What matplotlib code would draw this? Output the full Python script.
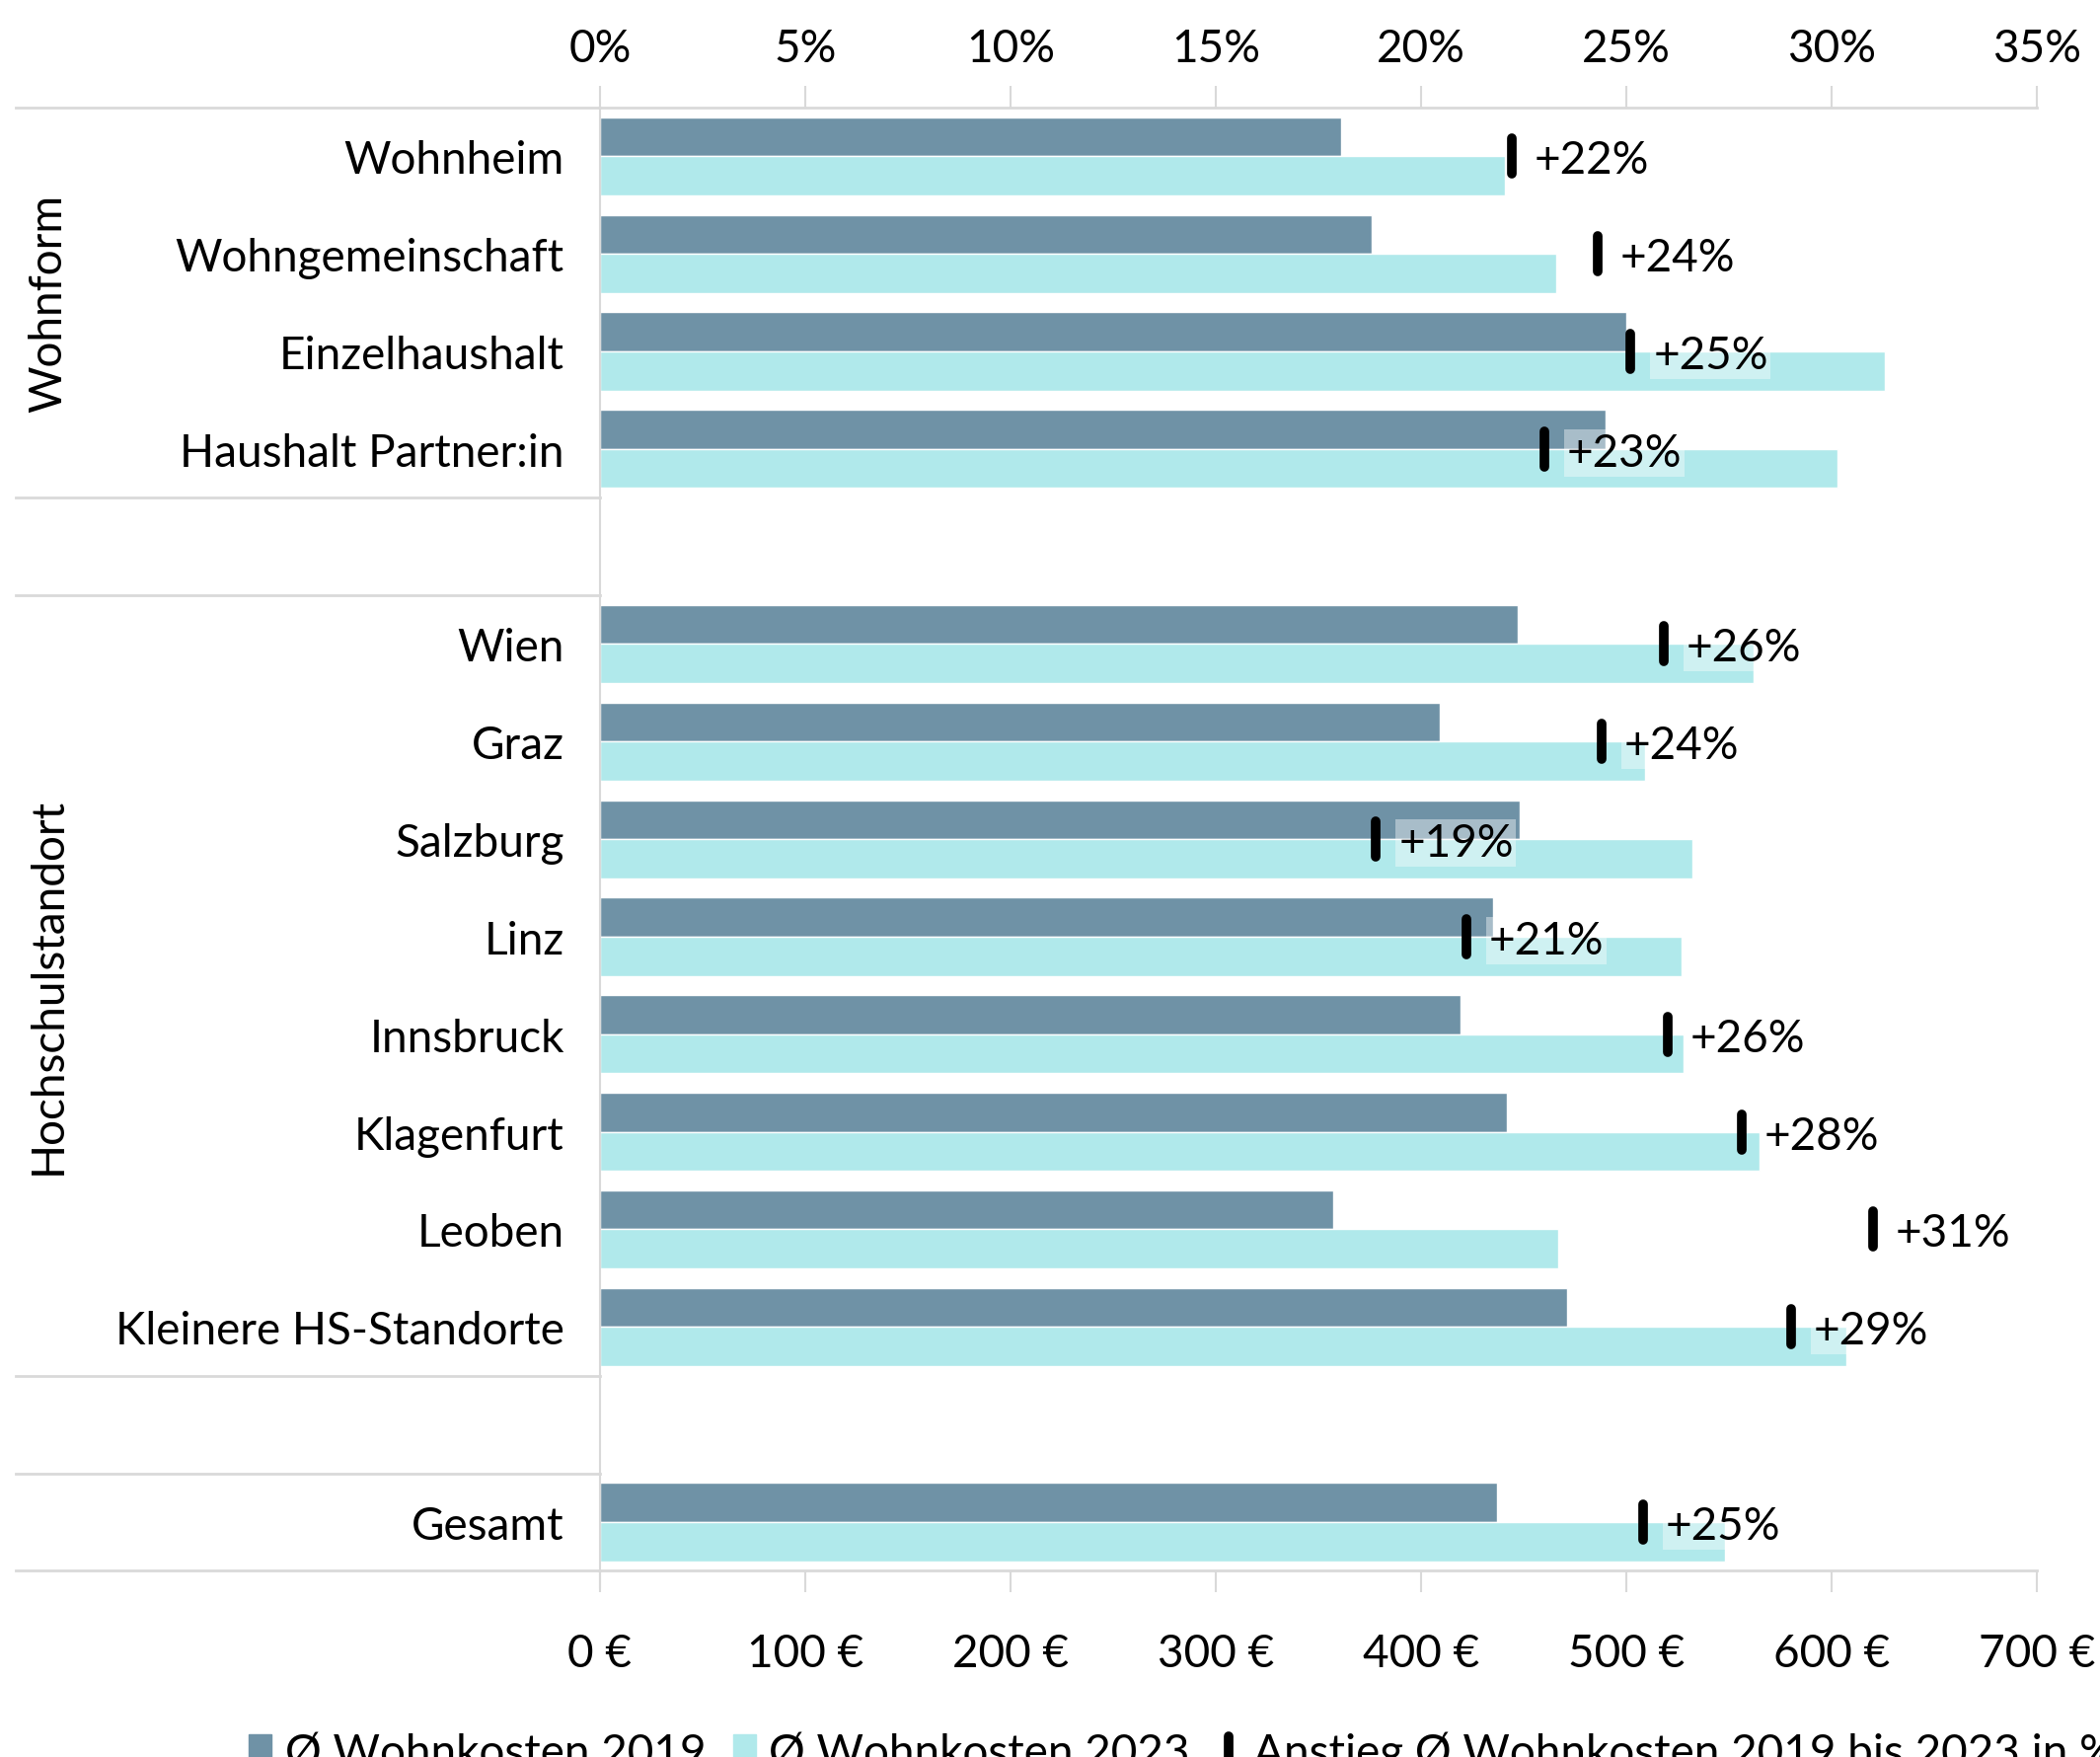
import matplotlib
matplotlib.use("Agg")
import matplotlib.pyplot as plt
from matplotlib.markers import MarkerStyle
from matplotlib.patches import Patch
from matplotlib.lines import Line2D

plt.rcParams['font.family'] = ['Lato', 'DejaVu Sans']

# daten
kategorien = ["Wohnheim", "Wohngemeinschaft", "Einzelhaushalt", "Haushalt Partner:in",
              "Wien", "Graz", "Salzburg", "Linz", "Innsbruck", "Klagenfurt", "Leoben",
              "Kleinere HS-Standorte", "Gesamt"]
slots = [0, 1, 2, 3, 5, 6, 7, 8, 9, 10, 11, 12, 14]
kosten_2019 = [361, 376, 500, 490, 447, 409, 448, 435, 419, 442, 357, 471, 437]
kosten_2023 = [441, 466, 626, 603, 562, 509, 532, 527, 528, 565, 467, 607, 548]
anstieg = [22.2, 24.3, 25.1, 23.0, 25.9, 24.4, 18.9, 21.1, 26.0, 27.8, 31.0, 29.0, 25.4]
gruppen = ["Wohnform", "Hochschulstandort"]
gruppen_mitte = [1.5, 8.5]
euro_ticks = [0, 100, 200, 300, 400, 500, 600, 700]
pct_ticks = [0, 5, 10, 15, 20, 25, 30, 35]

c19 = "#6f92a6"
c23 = "#b0e9eb"
grau = "#d9d9d9"
fs = 33

fig = plt.figure(figsize=(21.28, 17.81), dpi=100)
ax = fig.add_axes([0.2857, 0.1059, 0.6843, 0.8324])

ax.barh([s - 0.2 for s in slots], kosten_2019, height=0.4, color=c19, edgecolor="white", linewidth=1)
ax.barh([s + 0.2 for s in slots], kosten_2023, height=0.4, color=c23, edgecolor="white", linewidth=1)

ax.set_xlim(0, 700)
ax.set_ylim(14.5, -0.5)
ax.set_xticks(euro_ticks)
ax.set_xticklabels([f"{v} €" for v in euro_ticks], fontsize=fs)
ax.set_yticks(slots)
ax.set_yticklabels(kategorien, fontsize=fs)
ax.tick_params(axis="y", length=0, pad=26)
ax.tick_params(axis="x", length=16, width=1.5, color=grau, pad=29)
for sp in ["top", "right", "bottom"]:
    ax.spines[sp].set_visible(False)
ax.spines["left"].set_color(grau)
ax.spines["left"].set_linewidth(1.5)
ax.spines["left"].set_bounds(14.5 + 0.17, -0.5)

# obere achse fuer prozent
ax2 = ax.twiny()
ax2.set_xlim(0, 35)
ax2.set_xticks(pct_ticks)
ax2.set_xticklabels([f"{v}%" for v in pct_ticks], fontsize=fs)
ax2.tick_params(axis="x", length=16, width=1.5, color=grau, pad=12)
for sp in ax2.spines.values():
    sp.set_visible(False)

marker = MarkerStyle("|", capstyle="round")
ax2.plot(anstieg, slots, linestyle="none", marker=marker, markersize=26,
         markeredgewidth=7, color="black", zorder=5)
for p, s in zip(anstieg, slots):
    ax2.text(p + 0.55, s, f"+{round(p)}%", fontsize=fs, va="center_baseline", ha="left", zorder=6,
             bbox=dict(facecolor="white", alpha=0.4, edgecolor="none", pad=2))

# trennlinien
trans = ax.get_yaxis_transform()
x_links = -0.4063
for y in [-0.5, 14.5]:
    ax.plot([x_links, 1.0], [y, y], color=grau, lw=2, transform=trans, clip_on=False)
for y in [3.5, 4.5, 12.5, 13.5]:
    ax.plot([x_links, 0], [y, y], color=grau, lw=2, transform=trans, clip_on=False)

for g, m in zip(gruppen, gruppen_mitte):
    ax.text(-0.384, m, g, rotation=90, fontsize=fs, ha="center", va="center",
            transform=trans)

handles = [Patch(color=c19), Patch(color=c23),
           Line2D([], [], linestyle="none", marker=marker, markersize=20, markeredgewidth=7, color="black")]
labels = ["Ø Wohnkosten 2019", "Ø Wohnkosten 2023", "Anstieg Ø Wohnkosten 2019 bis 2023 in %"]
fig.legend(handles, labels, loc="upper center", bbox_to_anchor=(0.563, 0.038), ncol=3,
           frameon=False, fontsize=fs, handlelength=0.5, handletextpad=0.3, columnspacing=0.6)

fig.savefig("out.png", dpi=100)
